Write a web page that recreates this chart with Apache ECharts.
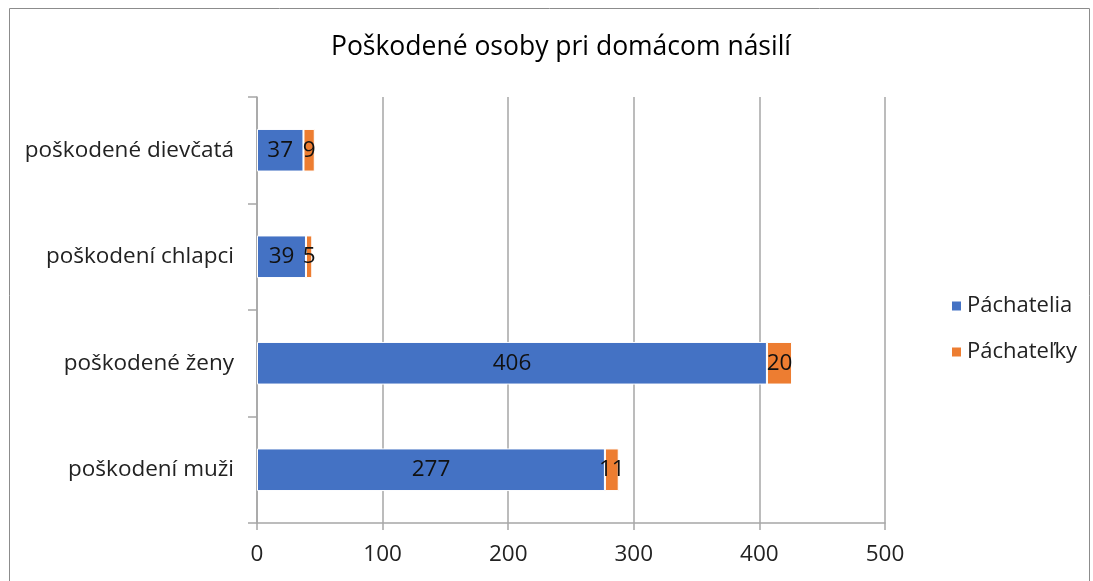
<!DOCTYPE html>
<html>
<head>
<meta charset="utf-8">
<script src="https://cdn.jsdelivr.net/npm/echarts@6/dist/echarts.min.js"></script>
<style>
html,body{margin:0;padding:0;background:#fff;}
#c{width:1093px;height:581px;}
</style>
</head>
<body>
<div id="c"></div>
<script>
const categories = ['poškodení muži', 'poškodené ženy', 'poškodení chlapci', 'poškodené dievčatá'];
const pachatelia = [277, 406, 39, 37];
const pachatelky = [11, 20, 5, 9];
const seriesNames = ['Páchatelia', 'Páchateľky'];
const xTicks = [0, 100, 200, 300, 400, 500];

const FONT = '"Open Sans", "Liberation Sans", Arial, sans-serif';
const FS = 22.5;
const chart = echarts.init(document.getElementById('c'), null, {renderer: 'canvas'});
chart.setOption({
  animation: false,
  backgroundColor: '#fff',
  graphic: [{
    type: 'rect', shape: {x: 9.5, y: 8.5, width: 1080, height: 620},
    style: {fill: 'none', stroke: '#8c8c8c', lineWidth: 1}, silent: true, z: -1
  }],
  title: {
    text: 'Poškodené osoby pri domácom násilí',
    left: 556, textAlign: 'center', top: 29,
    textStyle: {fontFamily: FONT, fontSize: 26.5, fontWeight: 'normal', color: '#000'}
  },
  legend: {
    orient: 'vertical', left: 945, top: 290, itemGap: 24,
    icon: 'rect', itemWidth: 11, itemHeight: 11,
    textStyle: {fontFamily: FONT, fontSize: 22, color: '#222'},
    data: seriesNames
  },
  grid: {left: 257, right: 208, top: 97, bottom: 58, containLabel: false},
  xAxis: {
    type: 'value', min: xTicks[0], max: xTicks[xTicks.length - 1], interval: 100,
    axisLine: {show: true, lineStyle: {color: '#a6a6a6', width: 1.5}},
    axisTick: {show: true, length: 7, lineStyle: {color: '#a6a6a6', width: 1.5}},
    axisLabel: {fontFamily: FONT, fontSize: FS, color: '#222', margin: 20},
    splitLine: {show: true, lineStyle: {color: '#a6a6a6', width: 1.5}}
  },
  yAxis: {
    type: 'category', data: categories,
    axisLine: {show: true, lineStyle: {color: '#a6a6a6', width: 1.5}},
    axisTick: {show: true, length: 9, lineStyle: {color: '#a6a6a6', width: 1.5}},
    axisLabel: {fontFamily: FONT, fontSize: FS, color: '#222', margin: 23, padding: [7, 0, 0, 0]}
  },
  series: [
    {
      name: seriesNames[0], type: 'bar', stack: 'a', data: pachatelia,
      barCategoryGap: '60%',
      itemStyle: {color: '#4472c4', borderColor: '#fff', borderWidth: 1},
      label: {show: true, position: 'inside', fontFamily: FONT, fontSize: FS, color: '#111'}
    },
    {
      name: seriesNames[1], type: 'bar', stack: 'a', data: pachatelky,
      barCategoryGap: '60%',
      itemStyle: {color: '#ed7d31', borderColor: '#fff', borderWidth: 1},
      label: {show: true, position: 'inside', fontFamily: FONT, fontSize: FS, color: '#111'},
      labelLayout: {hideOverlap: false}
    }
  ]
});
</script>
</body>
</html>
